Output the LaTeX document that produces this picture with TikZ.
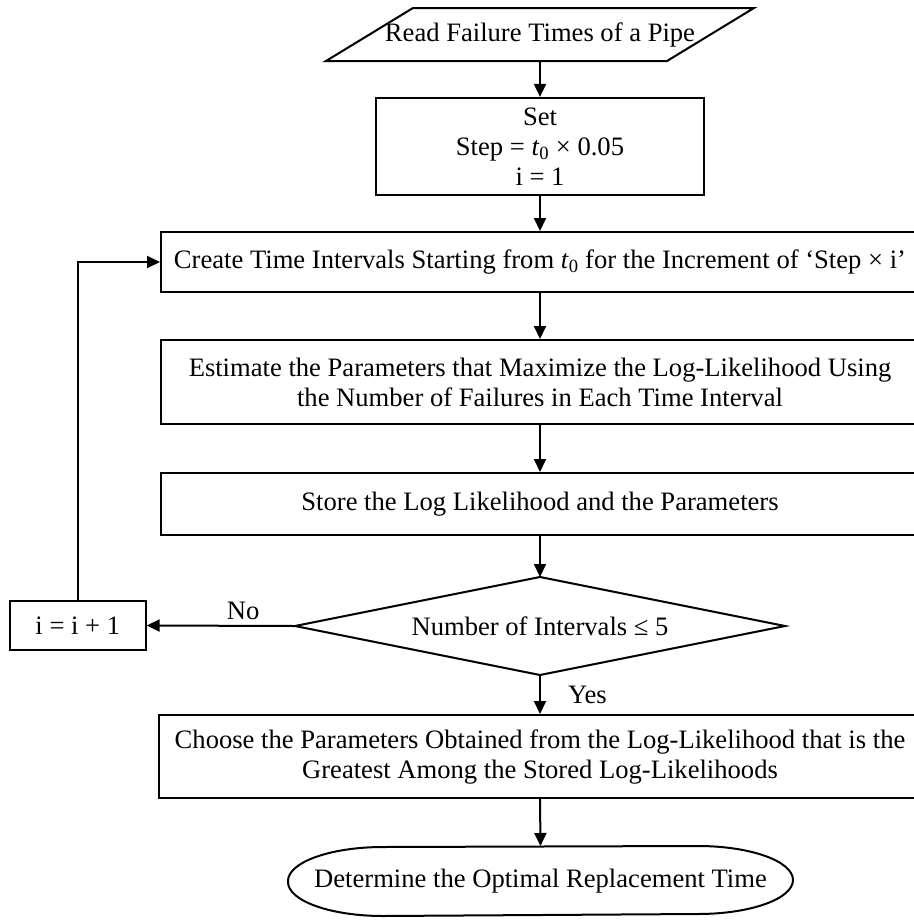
\documentclass[tikz,border=0pt]{standalone}
\usepackage{fontspec}
\setmainfont{Liberation Serif}
\usetikzlibrary{arrows.meta}
\begin{document}
\begin{tikzpicture}[x=1pt,y=-1pt,
  font=\fontsize{26.6}{30}\selectfont,
  line width=2pt,
  proc/.style={draw,rectangle,inner sep=0pt,align=center},
  plain/.style={inner sep=0pt,align=center},
  arr/.style={-{Triangle[length=13pt,width=12pt]}},
  lbl/.style={inner sep=0pt}
]
\useasboundingbox (0,0) rectangle (913,921);

\node[plain,minimum width=339pt,minimum height=51pt] (read) at (540,34.5) {Read Failure Times of a Pipe};
\draw ([xshift=-43.5pt]read.south west) -- ([xshift=43.5pt]read.north west)
   -- ([xshift=43.5pt]read.north east) -- ([xshift=-43.5pt]read.south east) -- cycle;

\node[proc,minimum width=328pt,minimum height=97pt] (set) at (540,146.4)
  {Set\\Step = \textit{t}\textsubscript{0} × 0.05\\i = 1};

\node[proc,minimum width=758pt,minimum height=60pt] (create) at (540,262)
  {Create Time Intervals Starting from \textit{t}\textsubscript{0} for the Increment of ‘Step × i’};

\node[proc,minimum width=758pt,minimum height=84pt] (est) at (540,382)
  {Estimate the Parameters that Maximize the Log-Likelihood Using\\the Number of Failures in Each Time Interval};

\node[proc,minimum width=758pt,minimum height=62pt] (store) at (540,504)
  {Store the Log Likelihood and the Parameters};

\node[plain,minimum width=488pt,minimum height=96pt] (dia) at (540,626)
  {Number of Intervals ≤ 5};
\draw (dia.north) -- (dia.east) -- (dia.south) -- (dia.west) -- cycle;

\node[proc,minimum width=135.7pt,minimum height=49pt] (inc) at (77.8,625.5) {i = i + 1};

\node[proc,minimum width=763pt,minimum height=83pt] (choose) at (540,756.5)
  {Choose the Parameters Obtained from the Log-Likelihood that is the\\Greatest Among the Stored Log-Likelihoods};

\node[plain,minimum width=503pt,minimum height=68pt] (det) at (540.5,881)
  {Determine the Optimal Replacement Time};
\draw (det.west) arc[start angle=180,end angle=90,x radius=95pt,y radius=34pt]
  -- ([xshift=-95pt]det.north east)
  arc[start angle=90,end angle=-90,x radius=95pt,y radius=34pt]
  -- ([xshift=95pt]det.south west)
  arc[start angle=270,end angle=180,x radius=95pt,y radius=34pt] -- cycle;

\draw[arr] (read.south) -- (set.north);
\draw[arr] (set.south) -- (create.north);
\draw[arr] (create.south) -- (est.north);
\draw[arr] (est.south) -- (store.north);
\draw[arr] (store.south) -- (dia.north);
\draw[arr] (dia.west) -- node[lbl,above=5pt,pos=0.35]{No} (inc.east);
\draw[arr] (dia.south) -- node[lbl,right=27pt,pos=0.5]{Yes} (choose.north);
\draw[arr] (inc.north) |- (create.west);
\draw[arr] (choose.south) -- (det.north);
\end{tikzpicture}
\end{document}
